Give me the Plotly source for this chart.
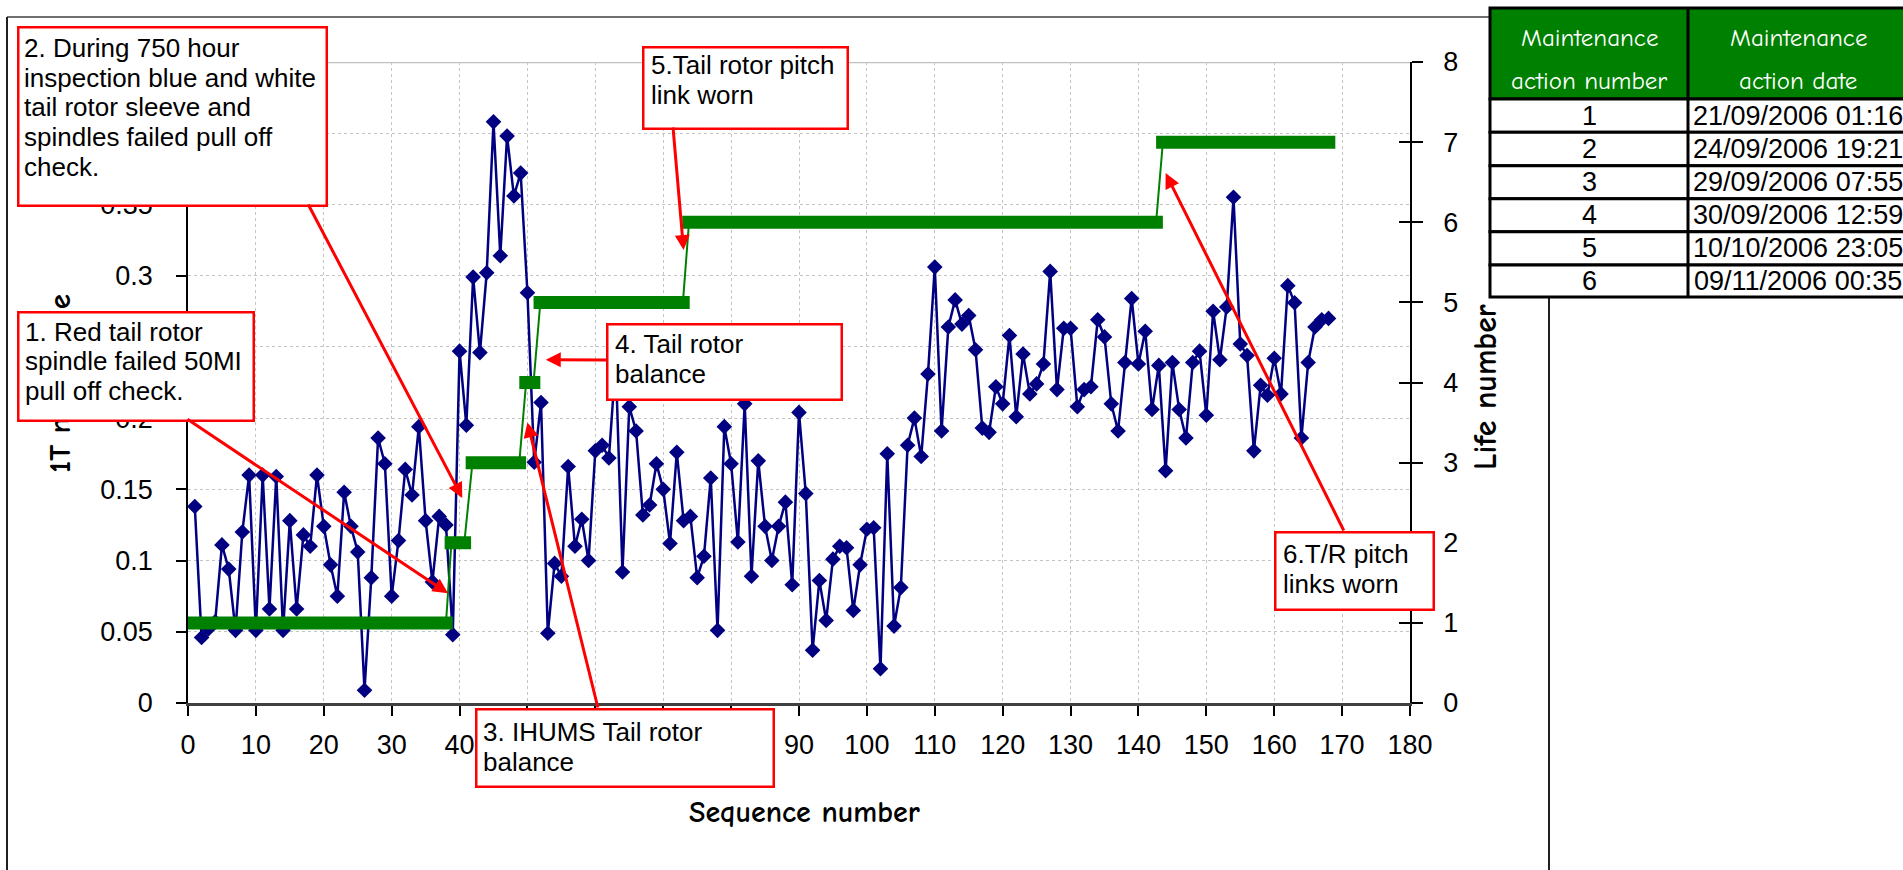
import plotly.graph_objects as go

# ---------------- data ----------------
seq_number = list(range(1, 169))
magnitude = [
    0.138, 0.046, 0.052, 0.057, 0.111, 0.094, 0.051, 0.120, 0.160, 0.051,
    0.160, 0.066, 0.159, 0.051, 0.128, 0.066, 0.118, 0.110, 0.160, 0.124,
    0.097, 0.075, 0.148, 0.124, 0.106, 0.009, 0.088, 0.186, 0.168, 0.075,
    0.114, 0.164, 0.146, 0.194, 0.128, 0.085, 0.131, 0.125, 0.048, 0.247,
    0.195, 0.299, 0.246, 0.302, 0.408, 0.314, 0.398, 0.356, 0.372, 0.288,
    0.169, 0.211, 0.049, 0.098, 0.089, 0.166, 0.110, 0.129, 0.100, 0.177,
    0.181, 0.172, 0.240, 0.092, 0.208, 0.191, 0.132, 0.139, 0.168, 0.150,
    0.112, 0.176, 0.128, 0.131, 0.088, 0.103, 0.158, 0.051, 0.194, 0.168,
    0.113, 0.210, 0.089, 0.170, 0.124, 0.100, 0.124, 0.141, 0.083, 0.204,
    0.147, 0.037, 0.086, 0.058, 0.101, 0.110, 0.109, 0.065, 0.097, 0.122,
    0.123, 0.024, 0.175, 0.054, 0.081, 0.181, 0.200, 0.173, 0.231, 0.306,
    0.191, 0.264, 0.283, 0.266, 0.272, 0.248, 0.193, 0.190, 0.222, 0.210,
    0.258, 0.201, 0.245, 0.217, 0.224, 0.238, 0.303, 0.220, 0.263, 0.263,
    0.208, 0.220, 0.222, 0.269, 0.257, 0.210, 0.191, 0.239, 0.284, 0.238,
    0.261, 0.206, 0.237, 0.163, 0.239, 0.206, 0.186, 0.239, 0.247, 0.202,
    0.275, 0.241, 0.278, 0.355, 0.252, 0.244, 0.177, 0.223, 0.216, 0.242,
    0.217, 0.293, 0.281, 0.186, 0.239, 0.264, 0.269, 0.270,
]
life_x = [1, 38, 38.8, 40.7, 41.9, 48.8, 49.8, 50.9, 51.9, 72.9, 73.8, 142.6, 143.6, 168]
life_y = [1, 1, 2, 2, 3, 3, 4, 4, 5, 5, 6, 6, 7, 7]

x_ticks = list(range(0, 181, 10))
y_ticks = [0, 0.05, 0.1, 0.15, 0.2, 0.25, 0.3, 0.35, 0.4, 0.45]
y_tick_text = ["0", "0.05", "0.1", "0.15", "0.2", "0.25", "0.3", "0.35", "0.4", "0.45"]
life_ticks = list(range(0, 9))

table_header = [["Maintenance", "action number"], ["Maintenance", "action date"]]
table_numbers = ["1", "2", "3", "4", "5", "6"]
table_dates = ["21/09/2006 01:16", "24/09/2006 19:21", "29/09/2006 07:55",
               "30/09/2006 12:59", "10/10/2006 23:05", "09/11/2006 00:35"]

# annotation boxes: (text lines, arrow tip in data coords (x, y-left-axis))
notes = [
    (["1. Red tail rotor", "spindle failed 50MI", "pull off check."], (38.3, 0.077)),
    (["2. During 750 hour", "inspection blue and white", "tail rotor sleeve and",
      "spindles failed pull off", "check."], (40.4, 0.144)),
    (["3. IHUMS Tail rotor", "balance"], (50.0, 0.197)),
    (["4. Tail rotor", "balance"], (52.7, 0.241)),
    (["5.Tail rotor pitch", "link worn"], (73.0, 0.318)),
    (["6.T/R pitch", "links worn"], (144.0, 0.372)),
]

# ---------------- layout geometry (pixels) ----------------
W, H = 1903, 870
L, R, T, B = 188, 493, 62, 167
PW, PH = W - L - R, H - T - B
XMAX, YMAX, LMAX = 180, 0.45, 8


def px(X):
    return (X - L) / PW


def py(Y):
    return (H - B - Y) / PH


def dx(xv):
    return L + xv / XMAX * PW


def dy(yv):
    return H - B - yv / YMAX * PH


# box layout: (left, top, right, bottom, text-left, first line y, line step, arrow tail px)
box_geom = [
    (17, 311, 252, 419, 23, 332, 29.5, (187, 419)),
    (17, 26, 325, 204, 22, 48, 29.7, (308, 204)),
    (475, 708, 772, 785, 481, 732, 29.5, (598, 708)),
    (606, 323, 840, 398, 613, 344, 30, (607, 360)),
    (642, 46, 846, 127, 649, 65, 30, (673, 127)),
    (1274, 531, 1432, 608, 1281, 554, 30, (1344, 531)),
]

RED = "#ff0000"
NAVY = "#000080"
GREEN = "#008000"
TXT = "Liberation Sans, Arial, sans-serif"
COMIC = "Comic Sans MS, Comic Neue, Noto Sans, sans-serif"

fig = go.Figure()

fig.add_trace(go.Scatter(
    x=seq_number, y=magnitude, mode="lines+markers",
    line=dict(color=NAVY, width=2.5),
    marker=dict(symbol="diamond", size=12, color=NAVY),
    showlegend=False, hoverinfo="skip"))

fig.add_trace(go.Scatter(
    x=life_x, y=life_y, mode="lines", yaxis="y2",
    line=dict(color=GREEN, width=2), showlegend=False, hoverinfo="skip"))

cap = 1.0  # half bar thickness expressed in x units (square line caps)
for i in range(0, len(life_x), 2):
    fig.add_trace(go.Scatter(
        x=[life_x[i] - cap, life_x[i + 1] + cap], y=[life_y[i], life_y[i + 1]],
        mode="lines", yaxis="y2", line=dict(color=GREEN, width=13),
        showlegend=False, hoverinfo="skip"))

fig.add_trace(go.Scatter(x=[None], y=[None], yaxis="y3", showlegend=False, hoverinfo="skip"))

shapes = []
annotations = []

# chart frame
shapes.append(dict(type="line", xref="paper", yref="paper", x0=px(7), x1=px(1490), y0=py(17), y1=py(17),
                   line=dict(color="#707070", width=2), layer="below"))
shapes.append(dict(type="line", xref="paper", yref="paper", x0=px(7), x1=px(7), y0=py(17), y1=py(872),
                   line=dict(color="#202020", width=2), layer="below"))
shapes.append(dict(type="line", xref="paper", yref="paper", x0=px(1549), x1=px(1549), y0=py(297), y1=py(872),
                   line=dict(color="#202020", width=2), layer="below"))
# solid top border of plot area
shapes.append(dict(type="line", xref="x", yref="y", x0=0, x1=XMAX, y0=YMAX, y1=YMAX,
                   line=dict(color="#c0c0c0", width=2.5), layer="below"))

# axis titles (drawn first so that the note boxes cover them)
annotations.append(dict(text="<b>1T magnitude</b>", xref="paper", yref="paper", x=px(60), y=py(384),
                        textangle=-90, showarrow=False, xanchor="center", yanchor="middle",
                        font=dict(family=COMIC, size=31, color="black")))
annotations.append(dict(text="<b>Life number</b>", xref="paper", yref="paper", x=px(1485), y=py(387),
                        textangle=-90, showarrow=False, xanchor="center", yanchor="middle",
                        font=dict(family=COMIC, size=32, color="black")))
annotations.append(dict(text="<b>Sequence number</b>", xref="paper", yref="paper", x=px(804), y=py(812),
                        showarrow=False, xanchor="center", yanchor="middle",
                        font=dict(family=COMIC, size=30, color="black")))

# annotation boxes + text + arrows
BW = 2.5
for (lines, tip), (bl, bt, br, bb, tl, ly0, lstep, tail) in zip(notes, box_geom):
    annotations.append(dict(text=" ", xref="paper", yref="paper", x=px(bl), y=py(bt),
                            xanchor="left", yanchor="top", showarrow=False,
                            width=br - bl - BW, height=bb - bt - BW, borderpad=0,
                            bgcolor="white", bordercolor=RED, borderwidth=BW,
                            font=dict(family=TXT, size=10, color="black")))
    for k, t in enumerate(lines):
        annotations.append(dict(text=t, xref="paper", yref="paper", x=px(tl), y=py(ly0 + k * lstep),
                                xanchor="left", yanchor="middle", showarrow=False,
                                font=dict(family=TXT, size=26, color="black")))
    tx, ty = tip
    annotations.append(dict(text="", x=tx, y=ty, xref="x", yref="y",
                            ax=tail[0] - dx(tx), ay=tail[1] - dy(ty), axref="pixel", ayref="pixel",
                            showarrow=True, arrowhead=2, arrowsize=1, arrowwidth=3, arrowcolor=RED,
                            standoff=0, startstandoff=0, borderpad=0, font=dict(size=1)))

# table
tl_, tc_, tr_ = 1490, 1688, 1910
row_edges = [8, 99, 132.3, 165.7, 198.7, 231.7, 265, 297]
shapes.append(dict(type="rect", xref="paper", yref="paper", x0=px(tl_), x1=px(tr_),
                   y0=py(row_edges[1]), y1=py(row_edges[0]), fillcolor=GREEN,
                   line=dict(color="black", width=3), layer="above"))
for i in range(1, len(row_edges) - 1):
    shapes.append(dict(type="rect", xref="paper", yref="paper", x0=px(tl_), x1=px(tr_),
                       y0=py(row_edges[i + 1]), y1=py(row_edges[i]), fillcolor="white",
                       line=dict(color="black", width=3), layer="above"))
shapes.append(dict(type="line", xref="paper", yref="paper", x0=px(tc_), x1=px(tc_),
                   y0=py(row_edges[-1]), y1=py(row_edges[0]), line=dict(color="black", width=3), layer="above"))
col_centers = [(tl_ + tc_) / 2, 1798]
for c, hdr in enumerate(table_header):
    for k, t in enumerate(hdr):
        annotations.append(dict(text=t, xref="paper", yref="paper", x=px(col_centers[c]), y=py(38 + 42 * k),
                                showarrow=False, xanchor="center", yanchor="middle",
                                font=dict(family=COMIC, size=25, color="white")))
for i, (n, d) in enumerate(zip(table_numbers, table_dates)):
    yc = (row_edges[i + 1] + row_edges[i + 2]) / 2
    annotations.append(dict(text=n, xref="paper", yref="paper", x=px(col_centers[0]), y=py(yc),
                            showarrow=False, xanchor="center", yanchor="middle",
                            font=dict(family=TXT, size=27, color="black")))
    annotations.append(dict(text=d, xref="paper", yref="paper", x=px(col_centers[1]), y=py(yc),
                            showarrow=False, xanchor="center", yanchor="middle",
                            font=dict(family=TXT, size=27, color="black")))

grid = dict(showgrid=True, gridcolor="#c4c4c4", gridwidth=1, griddash="3px,3px")
tickfont = dict(family=TXT, size=27, color="black")

fig.update_layout(
    width=W, height=H,
    margin=dict(l=L, r=R, t=T, b=B, pad=0),
    paper_bgcolor="white", plot_bgcolor="white",
    showlegend=False,
    xaxis=dict(range=[0, XMAX], tickvals=x_ticks, ticks="outside", ticklen=10, tickwidth=1.5,
               tickcolor="black", showline=True, linecolor="#404040", linewidth=2.5,
               zeroline=False, tickfont=tickfont, ticklabelstandoff=6, automargin=False, **grid),
    yaxis=dict(range=[0, YMAX], tickvals=y_ticks, ticktext=y_tick_text, ticks="outside", ticklen=10,
               tickwidth=1.5, tickcolor="black", showline=True, linecolor="black", linewidth=1.5,
               zeroline=False, tickfont=tickfont, ticklabelstandoff=18, automargin=False, **grid),
    yaxis2=dict(range=[0, LMAX], tickvals=life_ticks, overlaying="y", side="right", anchor="x",
                ticks="outside", ticklen=11, tickwidth=1.5, tickcolor="black", showline=True,
                linecolor="black", linewidth=1.5, showgrid=False, zeroline=False, tickfont=tickfont,
                ticklabelstandoff=15, automargin=False),
    yaxis3=dict(range=[0, LMAX], tickvals=life_ticks, overlaying="y", side="right", anchor="x",
                ticks="inside", ticklen=11, tickwidth=1.5, tickcolor="black", showline=False,
                showticklabels=False, showgrid=False, zeroline=False, automargin=False),
    shapes=shapes,
    annotations=annotations,
)

fig.write_html("out.html", config={"displayModeBar": False},
               post_script="document.body.style.margin='0px';document.body.style.overflow='hidden';")
